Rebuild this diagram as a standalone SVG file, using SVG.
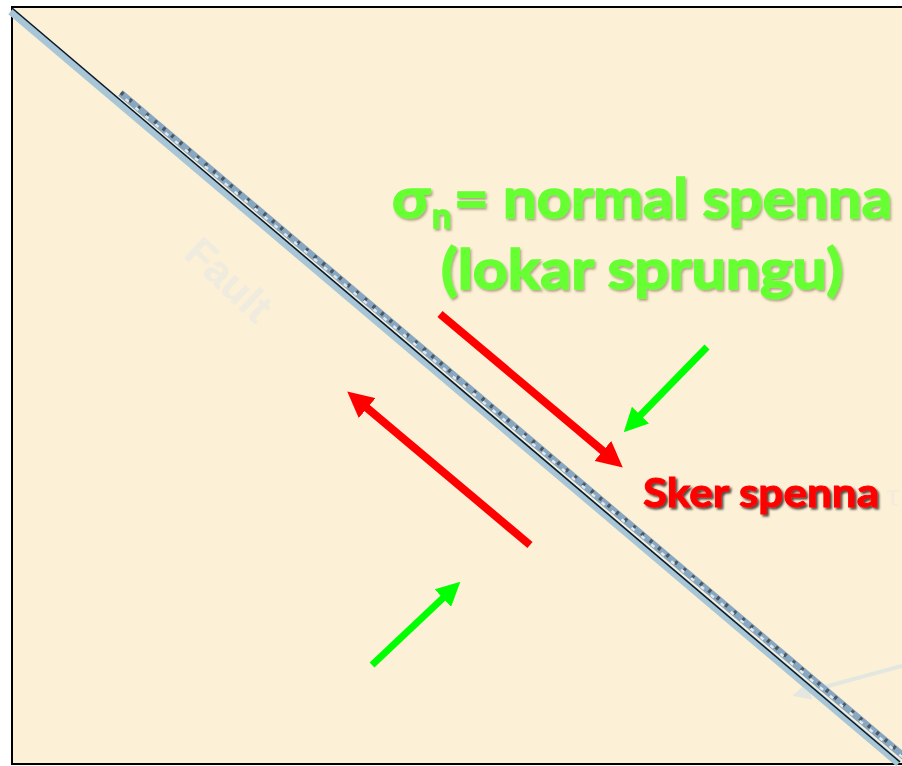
<svg xmlns="http://www.w3.org/2000/svg" width="902" height="766" viewBox="0 0 902 766">
<defs>
<style>
.grn{font-family:Lato,"Open Sans","Liberation Sans",sans-serif;font-weight:bold;fill:#66ff33;stroke:#66ff33;stroke-width:1.6}
.red{font-family:Lato,"Open Sans","Liberation Sans",sans-serif;font-weight:bold;fill:#ff0000;stroke:#ff0000;stroke-width:1}
</style>
<filter id="sh" x="-10%" y="-10%" width="120%" height="130%">
<feDropShadow dx="1.5" dy="2" stdDeviation="1" flood-color="#5a4a20" flood-opacity="0.45"/>
</filter>
<filter id="shr" x="-10%" y="-10%" width="120%" height="130%">
<feDropShadow dx="2" dy="2" stdDeviation="1" flood-color="#000" flood-opacity="0.7"/>
</filter>
<marker id="hr" markerUnits="userSpaceOnUse" viewBox="0 -13 26 26" refX="5" refY="0" markerWidth="26" markerHeight="26" orient="auto">
<path d="M0,-13 L26,0 L0,13 z" fill="#ff0000"/>
</marker>
<marker id="hg" markerUnits="userSpaceOnUse" viewBox="0 -12 24 24" refX="5" refY="0" markerWidth="24" markerHeight="24" orient="auto">
<path d="M0,-12 L24,0 L0,12 z" fill="#00ff00"/>
</marker>
<marker id="hf" markerUnits="userSpaceOnUse" viewBox="0 -9 18 18" refX="4" refY="0" markerWidth="18" markerHeight="18" orient="auto">
<path d="M0,-9 L18,0 L0,9 z" fill="#e4e7e0"/>
</marker>
</defs>
<rect x="0" y="0" width="902" height="766" fill="#ffffff"/>
<rect id="background" x="12" y="7" width="900" height="757" fill="#fcf0d6" stroke="#000" stroke-width="2"/>
<text x="0" y="0" transform="translate(182,256) rotate(43)" font-family="'Liberation Sans',sans-serif" font-weight="bold" font-size="42" fill="#efebdf">Fault</text>
<g id="faint-arrow">
<line x1="902" y1="666" x2="806" y2="692" stroke="#e4e7e0" stroke-width="4" marker-end="url(#hf)"/>
</g>
<g id="fault">
<line x1="12" y1="10" x2="900" y2="762" stroke="#a9c6d6" stroke-width="7" transform="translate(-1.5,1.5)"/>
<line x1="118" y1="96" x2="902" y2="760" stroke="#88a8c2" stroke-width="7" transform="translate(2.5,-3)"/>
<line x1="118" y1="96" x2="902" y2="760" stroke="#4e5660" stroke-width="4" stroke-dasharray="3 8" transform="translate(3,-3.5)"/>
<line x1="118" y1="96" x2="902" y2="760" stroke="#dfe6ec" stroke-width="2.5" stroke-dasharray="4 9" stroke-dashoffset="5" transform="translate(1.5,-2)"/>
<line x1="12" y1="8" x2="900" y2="762" stroke="#0a1a2a" stroke-width="1.6"/>
</g>
<g id="connectors">
<line x1="440" y1="314" x2="606.7" y2="454.1" stroke="#ff0000" stroke-width="8" marker-end="url(#hr)"/>
<line x1="530" y1="545" x2="363.3" y2="404.9" stroke="#ff0000" stroke-width="8" marker-end="url(#hr)"/>
<line x1="372" y1="665" x2="446.5" y2="594.7" stroke="#00ff00" stroke-width="7" marker-end="url(#hg)"/>
<line x1="707" y1="347" x2="637" y2="418.7" stroke="#00ff00" stroke-width="7" marker-end="url(#hg)"/>
</g>
<g id="label-normal" filter="url(#sh)">
<text class="grn" x="392" y="218" font-size="56" textLength="38" lengthAdjust="spacingAndGlyphs">σ</text>
<text class="grn" x="432" y="228" font-size="34">n</text>
<text class="grn" x="454" y="218" font-size="56" textLength="438" lengthAdjust="spacingAndGlyphs">= normal spenna</text>
<text class="grn" x="642" y="289" font-size="56" text-anchor="middle" textLength="402" lengthAdjust="spacingAndGlyphs">(lokar sprungu)</text>
</g>
<g id="label-sker" filter="url(#shr)">
<text class="red" x="643" y="507" font-size="40" textLength="236" lengthAdjust="spacingAndGlyphs">Sker spenna</text>
</g>
<text x="886" y="506" font-family="'Liberation Serif',serif" font-size="34" fill="#f3ecdc">τ</text>
</svg>
